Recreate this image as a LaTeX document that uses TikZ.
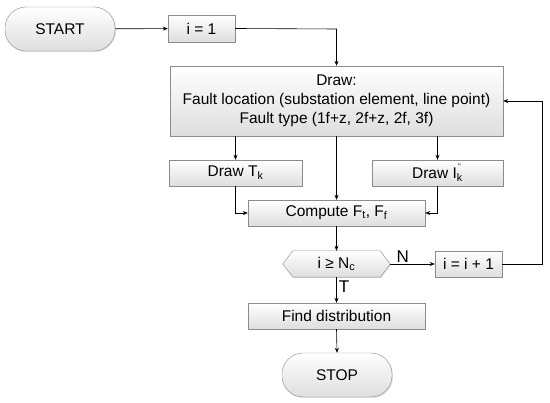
\documentclass[tikz,border=0pt]{standalone}
\usepackage{fontspec}
\setmainfont{Liberation Sans}
\usetikzlibrary{calc,shadows,arrows.meta}
\begin{document}
\begin{tikzpicture}[x=1pt,y=-1pt,
  box/.style={draw=black!45, top color=white, bottom color=black!13, inner sep=0pt,
    drop shadow={shadow xshift=1pt, shadow yshift=-1pt, opacity=0.25, fill=black!50},
    font=\fontsize{15.5}{19}\selectfont, align=center},
  term/.style={box, rounded corners=21pt},
  arr/.style={-{Stealth[length=5pt,width=4pt]}, line width=0.6pt},
  lbl/.style={font=\fontsize{17}{19}\selectfont}]
\useasboundingbox (0,0) rectangle (550,403);
\node[term, minimum width=110pt, minimum height=44pt] (start) at (60,29) {START};
\node[box, minimum width=67pt, minimum height=27pt] (i1) at (201.5,28.5) {i = 1};
\node[box, minimum width=333pt, minimum height=70pt] (draw) at (336.5,101)
  {Draw:\\Fault location (substation element, line point)\\Fault type (1f+z, 2f+z, 2f, 3f)};
\node[box, minimum width=133pt, minimum height=26pt] (tk) at (235.5,173) {Draw T\textsubscript{k}};
\node[box, minimum width=131pt, minimum height=26pt] (ik) at (437.5,173) {Draw I\rlap{\textsubscript{k}}\raisebox{1.1ex}{\fontsize{8}{8}\selectfont\,''}\hspace{2pt}};
\node[box, minimum width=177pt, minimum height=26pt] (comp) at (336.5,213) {Compute F\textsubscript{t}, F\textsubscript{f}};
\node[minimum width=107pt, minimum height=26pt, inner sep=0pt] (dec) at (336.5,264) {};
\path[draw=black!45, top color=white, bottom color=black!13,
    drop shadow={shadow xshift=1pt, shadow yshift=-1pt, opacity=0.25, fill=black!50}]
  (dec.west) -- ($(dec.north west)+(10,0)$) -- ($(dec.north east)+(-10,0)$) -- (dec.east)
  -- ($(dec.south east)+(-10,0)$) -- ($(dec.south west)+(10,0)$) -- cycle;
\node[font=\fontsize{15.5}{19}\selectfont] at (dec) {i ≥ N\textsubscript{c}};
\node[box, minimum width=67pt, minimum height=26pt] (inc) at (468.5,264) {i = i + 1};
\node[box, minimum width=177pt, minimum height=26pt] (find) at (336.5,316) {Find distribution};
\node[term, minimum width=110pt, minimum height=44pt] (stop) at (337,375) {STOP};
\coordinate (c1) at (336.5,29);
\coordinate (c2) at (542,264);
\coordinate (c3) at (542,101);
\draw[arr] (start) -- (i1);
\draw[arr] (i1.east) -- (c1) -- (draw.north);
\draw[arr] (draw.south -| tk) -- (tk.north);
\draw[arr] (draw.south -| ik) -- (ik.north);
\draw[arr] (draw.south) -- (comp.north);
\draw[arr] (tk.south) |- (comp.west);
\draw[arr] (ik.south) |- (comp.east);
\draw[arr] (comp.south) -- (dec.north);
\draw[arr] (dec.east) -- node[lbl, above, pos=0.28, inner sep=1pt] (nl) {N} (inc.west);
\draw[arr] (inc.east) -- (c2) -- (c3) -- (draw.east);
\draw[arr] (dec.south) -- node[lbl, right, pos=0.35, inner sep=2pt] (tl) {T} (find.north);
\draw[arr] (find.south) -- (stop.north);
\end{tikzpicture}
\end{document}
